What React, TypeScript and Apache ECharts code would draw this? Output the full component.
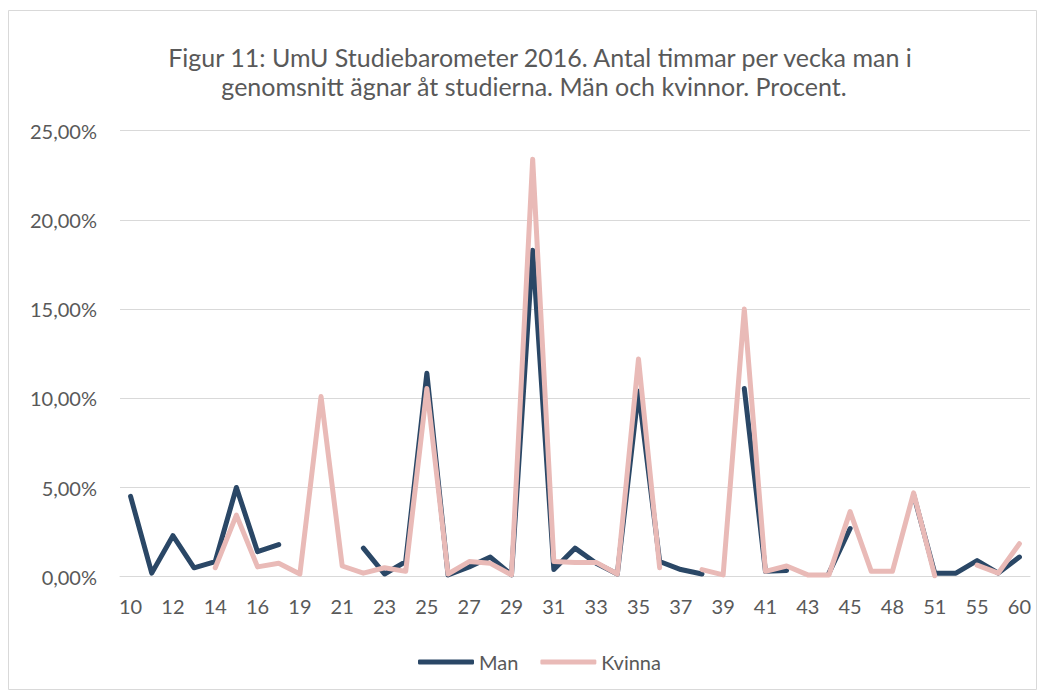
import { useEffect, useRef } from 'react';
import * as echarts from 'echarts';

const titleLines = [
  'Figur 11: UmU Studiebarometer 2016. Antal timmar per vecka man i',
  'genomsnitt ägnar åt studierna. Män och kvinnor. Procent.',
];

const categories = [
  '10', '11', '12', '13', '14', '15', '16', '18', '19', '20',
  '21', '22', '23', '24', '25', '26', '27', '28', '29', '30',
  '31', '32', '33', '34', '35', '36', '37', '38', '39', '40',
  '41', '42', '43', '44', '45', '47', '48', '50', '51', '52',
  '55', '58', '60',
];

const manValues = [
  4.5, 0.2, 2.3, 0.5, 0.85, 5.0, 1.4, 1.8, null, null,
  null, 1.6, 0.15, 0.85, 11.4, 0.1, 0.55, 1.1, 0.1, 18.3,
  0.4, 1.6, 0.75, 0.15, 10.4, 0.85, 0.4, 0.15, null, 10.55,
  0.3, 0.35, null, 0.2, 2.7, null, null, 4.6, 0.2, 0.2,
  0.9, 0.2, 1.1,
];

const kvinnaValues = [
  null, null, null, null, 0.5, 3.45, 0.55, 0.75, 0.15, 10.1,
  0.6, 0.2, 0.5, 0.3, 10.55, 0.15, 0.85, 0.75, 0.1, 23.4,
  0.85, 0.8, 0.8, 0.15, 12.2, 0.5, null, 0.4, 0.1, 15.0,
  0.3, 0.6, 0.1, 0.1, 3.65, 0.3, 0.3, 4.7, 0.05, null,
  0.65, 0.2, 1.85,
];

const seriesNames = ['Man', 'Kvinna'];
const seriesColors = ['#2a4766', '#e9bab7'];

const FONT = 'Lato';
const TEXT_COLOR = '#595959';

export default function App() {
  const ref = useRef<HTMLDivElement>(null);

  useEffect(() => {
    if (!ref.current) return;
    const chart = echarts.init(ref.current, null, { renderer: 'svg' });
    chart.setOption({
      animation: false,
      backgroundColor: '#ffffff',
      graphic: [
        {
          type: 'rect',
          shape: { x: 8.5, y: 10.5, width: 1028, height: 679 },
          style: { fill: 'none', stroke: '#d9d9d9', lineWidth: 1 },
          silent: true,
        },
        {
          type: 'text',
          x: 540,
          y: 57,
          style: {
            text: titleLines[0],
            align: 'center',
            verticalAlign: 'middle',
            fontSize: 25,
            fontFamily: FONT,
            fill: TEXT_COLOR,
          },
        },
        {
          type: 'text',
          x: 534,
          y: 86,
          style: {
            text: titleLines[1],
            align: 'center',
            verticalAlign: 'middle',
            fontSize: 25,
            fontFamily: FONT,
            fill: TEXT_COLOR,
          },
        },
      ],
      legend: {
        data: seriesNames,
        left: 413,
        top: 647,
        itemWidth: 56,
        itemHeight: 5,
        itemGap: 22,
        icon: 'roundRect',
        textStyle: { fontSize: 20, fontFamily: FONT, color: TEXT_COLOR },
      },
      grid: {
        left: 120,
        right: 15,
        top: 130.7,
        bottom: 116.3,
        containLabel: false,
        outerBoundsMode: 'none',
      },
      xAxis: {
        type: 'category',
        data: categories,
        boundaryGap: true,
        axisLine: { show: true, lineStyle: { color: '#d9d9d9', width: 1 } },
        axisTick: { show: false },
        axisLabel: {
          interval: 1,
          color: TEXT_COLOR,
          fontSize: 20,
          fontFamily: FONT,
          margin: 19,
        },
        splitLine: { show: false },
      },
      yAxis: {
        type: 'value',
        min: 0,
        max: 25,
        interval: 5,
        axisLine: { show: false },
        axisTick: { show: false },
        axisLabel: {
          color: TEXT_COLOR,
          fontSize: 20,
          fontFamily: FONT,
          margin: 23,
          formatter: (v: number) => v.toFixed(2).replace('.', ',') + '%',
        },
        splitLine: { lineStyle: { color: '#d9d9d9', width: 1 } },
      },
      series: [
        {
          name: seriesNames[0],
          type: 'line',
          data: manValues,
          showSymbol: false,
          symbol: 'none',
          connectNulls: false,
          color: seriesColors[0],
          lineStyle: { width: 5, color: seriesColors[0], cap: 'round', join: 'round' },
          emphasis: { disabled: true },
        },
        {
          name: seriesNames[1],
          type: 'line',
          data: kvinnaValues,
          showSymbol: false,
          symbol: 'none',
          connectNulls: false,
          color: seriesColors[1],
          lineStyle: { width: 5, color: seriesColors[1], cap: 'round', join: 'round' },
          emphasis: { disabled: true },
        },
      ],
    });
    return () => chart.dispose();
  }, []);

  return (
    <div
      ref={ref}
      style={{ position: 'fixed', left: 0, top: 0, width: 1045, height: 693, background: '#fff' }}
    />
  );
}
